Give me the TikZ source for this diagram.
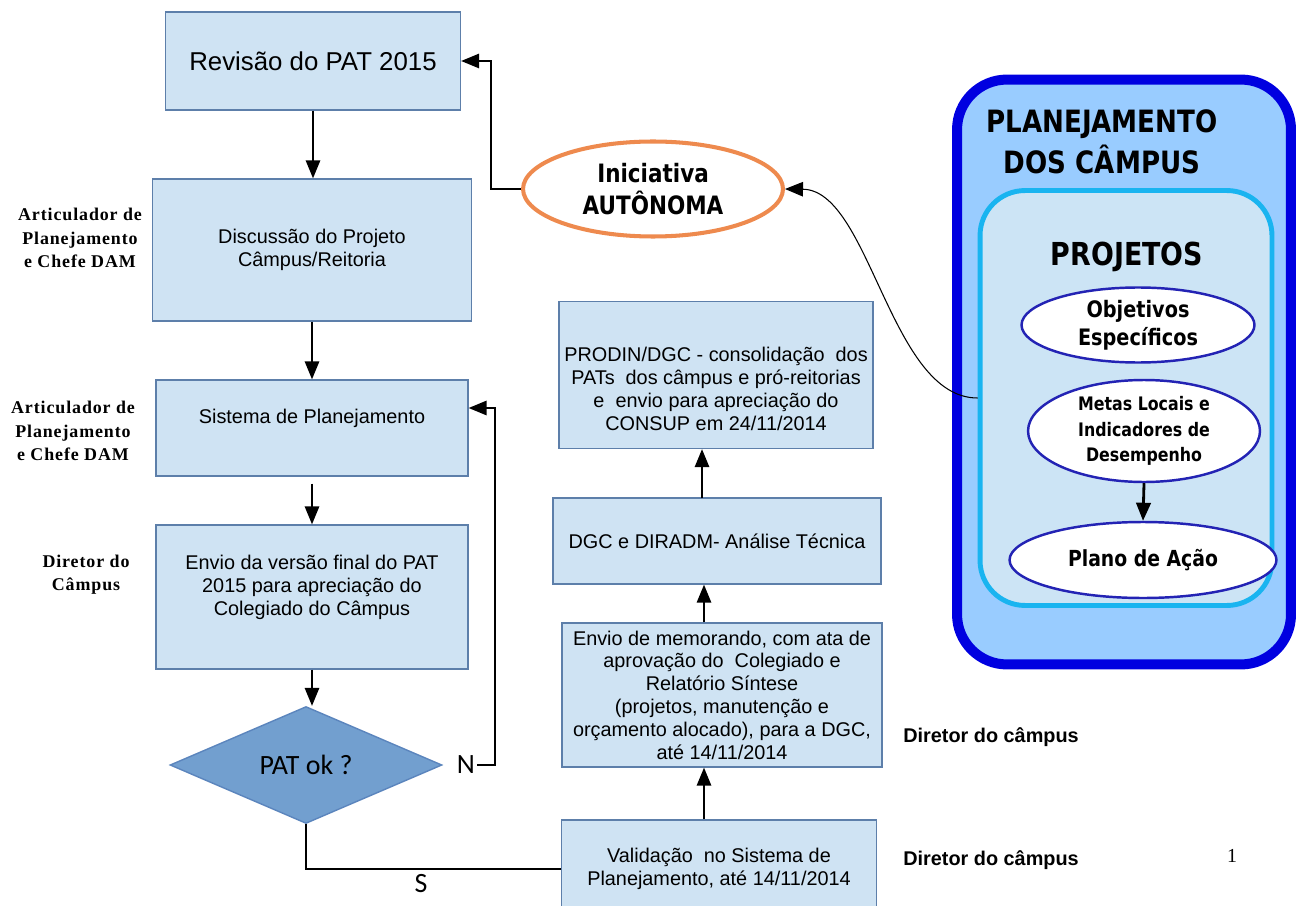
\documentclass[tikz,border=0pt]{standalone}
\usepackage{fontspec}
\setmainfont{Liberation Sans}
\newfontfamily\tnr{Liberation Serif}
\newfontfamily\tnrwide[LetterSpace=5]{Liberation Serif}
\newfontfamily\tah[FakeStretch=0.85]{DejaVu Sans}
\newfontfamily\calfont{Carlito}
\usetikzlibrary{arrows.meta,shapes.geometric}
\definecolor{boxfill}{HTML}{CFE3F3}
\definecolor{boxline}{HTML}{5D7FAA}
\definecolor{decfill}{HTML}{729FCF}
\definecolor{decline}{HTML}{5B85BD}
\definecolor{iniorange}{HTML}{EE8A4E}
\definecolor{campblue}{HTML}{0000E0}
\definecolor{campfill}{HTML}{99CCFF}
\definecolor{projline}{HTML}{19B4F0}
\definecolor{projfill}{HTML}{CCE4F5}
\definecolor{ellline}{HTML}{2323B4}
\tikzset{
  >={Triangle[length=3.6mm,width=2.9mm]},
  box/.style={rectangle,draw=boxline,fill=boxfill,line width=0.8pt,align=center,inner sep=2pt,
    font=\fontsize{11.3}{13}\selectfont},
  who/.style={align=center,font=\tnrwide\bfseries\fontsize{10.2}{13.3}\selectfont},
  dir/.style={font=\bfseries\fontsize{11.3}{13}\selectfont},
  oval/.style={ellipse,draw=ellline,fill=white,line width=1.4pt,inner sep=0pt,align=center},
  conn/.style={->,line width=0.85pt},
}
\begin{document}
\begin{tikzpicture}[x=0.02cm,y=-0.02cm]
\useasboundingbox (0,0) rectangle (1300,905);
% left column
\node (rev) [box,minimum width=5.9cm,minimum height=1.96cm,font=\fontsize{14.7}{17}\selectfont] at (313,61) {Revisão do PAT 2015};
\node (disc) [box,minimum width=6.38cm,minimum height=2.84cm] at (312,250) {Discussão do Projeto\\Câmpus/Reitoria};
\node (sis) [box,minimum width=6.24cm,minimum height=1.92cm] at (312,428) {Sistema de Planejamento\\\mbox{}};
\node (env) [box,minimum width=6.24cm,minimum height=2.88cm] at (312,597) {Envio da versão final do PAT\\2015 para apreciação do\\Colegiado do Câmpus\\\mbox{}};
\node (ok) [diamond,fill=decfill,draw=decline,line width=0.8pt,minimum width=5.44cm,minimum height=2.34cm,inner sep=0pt,
  font=\calfont\fontsize{15.9}{18}\selectfont] at (306,765) {PAT ok ?};
\node (nlab) [font=\calfont\fontsize{15.9}{18}\selectfont,inner sep=1pt] at (466,765) {N};
\node (slab) [font=\calfont\fontsize{15.9}{18}\selectfont,inner sep=1pt] at (421,884) {S};
%
\node (who1) [who] at (80,238) {Articulador de\\Planejamento\\e Chefe DAM};
\node (who2) [who] at (73,431) {Articulador de\\Planejamento\\e Chefe DAM};
\node (who3) [who] at (86,575) {Diretor do\\Câmpus};
% middle column
\node (ini) [ellipse,draw=iniorange,fill=white,line width=2.3pt,minimum width=5.2cm,minimum height=1.9cm,inner sep=0pt,align=center,
  font=\tah\bfseries\fontsize{14.4}{18}\selectfont] at (653,189) {Iniciativa\\AUTÔNOMA};
\node (prod) [box,minimum width=6.28cm,minimum height=2.94cm] at (716,375) {\mbox{}\\[11pt]PRODIN/DGC - consolidação\ \ dos\\PATs\ \ dos câmpus e pró-reitorias\\e\ \ envio para apreciação do\\CONSUP em 24/11/2014};
\node (dgc) [box,minimum width=6.56cm,minimum height=1.72cm] at (717,541) {DGC e DIRADM- Análise Técnica};
\node (memo) [box,minimum width=6.4cm,minimum height=2.88cm] at (722,695) {Envio de memorando, com ata de\\aprovação do\ \ Colegiado e\\Relatório Síntese\\(projetos, manutenção e\\orçamento alocado), para a DGC,\\até 14/11/2014};
\node (val) [box,minimum width=6.3cm,minimum height=1.96cm] at (719,869) {Validação\ \ no Sistema de\\Planejamento, até 14/11/2014};
%
\node (dir1) [dir] at (991,737) {Diretor do câmpus};
\node (dir2) [dir] at (991,860) {Diretor do câmpus};
\node (pnum) [font=\tnr\fontsize{11.3}{13}\selectfont] at (1232,856) {1};
% right panel
\node (camp) [rectangle,rounded corners=1cm,draw=campblue,fill=campfill,line width=5.7pt,minimum width=6.68cm,minimum height=11.7cm] at (1124,372) {};
\node (proj) [rectangle,rounded corners=0.9cm,draw=projline,fill=projfill,line width=2.8pt,minimum width=5.84cm,minimum height=8.3cm] at (1126,398) {};
\node (ctitle) [align=center,font=\tah\bfseries\fontsize{17.5}{23.2}\selectfont] at (1102,142) {PLANEJAMENTO\\DOS CÂMPUS};
\node (ptitle) [font=\tah\bfseries\fontsize{18}{22}\selectfont] at (1127,257) {PROJETOS};
\node (obj) [oval,minimum width=4.66cm,minimum height=1.5cm,font=\tah\bfseries\fontsize{12.9}{15.9}\selectfont] at (1138,325) {Objetivos\\Específicos};
\node (metas) [oval,minimum width=4.64cm,minimum height=2.04cm,font=\tah\bfseries\fontsize{10.6}{14.5}\selectfont] at (1144,431) {Metas Locais e\\Indicadores de\\Desempenho};
\node (plano) [oval,minimum width=5.34cm,minimum height=1.52cm,font=\tah\bfseries\fontsize{12.6}{15}\selectfont] at (1143,560) {Plano de Ação};
%
\coordinate (iturn) at (491,61);
\coordinate (nturn) at (495,408);
%
\draw[conn] (rev.south) -- (rev.south |- disc.north);
\draw[conn] (disc.south) -- (disc.south |- sis.north);
\draw[conn] ([yshift=-0.14cm]sis.south) -- (sis.south |- env.north);
\draw[conn] (env.south) -- (env.south |- ok.north);
\draw[conn] (nlab.east) -| (nturn) -- (sis.east |- nturn);
\draw[line width=0.85pt] (ok.south) |- (val.west);
\draw[conn] ([xshift=-0.3cm]val.north) -- ([xshift=-0.3cm]val.north |- memo.south);
\draw[conn] ([xshift=-0.36cm]memo.north) -- ([xshift=-0.36cm]memo.north |- dgc.south);
\draw[conn] ([xshift=-0.28cm]prod.south) ++(0,-0.98cm) -- ([xshift=-0.28cm]prod.south);
\draw[conn] (ini.west) -| (iturn) -- (rev.east);
\draw[->,line width=0.6pt] (proj.west) .. controls (890,398) and (870,190) .. (ini.east);
\draw[->,line width=1.6pt] (metas.south) -- (plano.north);
\end{tikzpicture}
\end{document}
